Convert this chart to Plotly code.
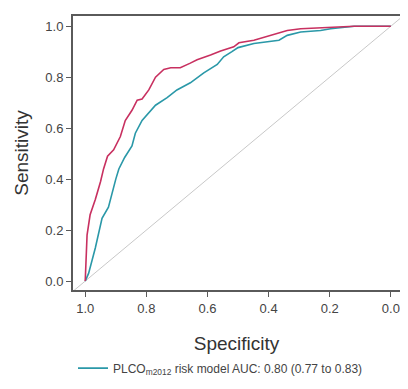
import plotly.graph_objects as go

# Specificity / sensitivity
red_spec = [1.0, 0.994, 0.984, 0.967, 0.95, 0.94, 0.927, 0.907, 0.885, 0.869, 0.847, 0.83, 0.814,
            0.792, 0.77, 0.743, 0.72, 0.689, 0.656, 0.634, 0.59, 0.557, 0.514, 0.497, 0.448,
            0.393, 0.339, 0.295, 0.197, 0.12, 0.0]
red_sens = [0.0, 0.18, 0.26, 0.32, 0.39, 0.44, 0.49, 0.515, 0.567, 0.63, 0.67, 0.71, 0.714,
            0.75, 0.80, 0.83, 0.837, 0.837, 0.855, 0.868, 0.887, 0.903, 0.919, 0.935, 0.945,
            0.964, 0.983, 0.99, 0.996, 1.0, 1.0]

teal_spec = [1.0, 0.989, 0.967, 0.945, 0.924, 0.912, 0.90, 0.89, 0.871, 0.847, 0.836, 0.814,
             0.77, 0.732, 0.70, 0.656, 0.612, 0.568, 0.547, 0.52, 0.50, 0.448, 0.366, 0.339,
             0.295, 0.23, 0.197, 0.12, 0.0]
teal_sens = [0.0, 0.03, 0.13, 0.246, 0.29, 0.35, 0.40, 0.44, 0.485, 0.53, 0.58, 0.63,
             0.69, 0.72, 0.75, 0.778, 0.817, 0.85, 0.88, 0.9, 0.916, 0.932, 0.945, 0.964,
             0.977, 0.983, 0.99, 1.0, 1.0]

diag = [1.04, -0.03]
teal_name = "PLCO<sub>m2012</sub> risk model AUC: 0.80 (0.77 to 0.83)"

x_ticks = [1.0, 0.8, 0.6, 0.4, 0.2, 0.0]
x_text = ["1.0", "0.8", "0.6", "0.4", "0.2", "0.0"]
y_ticks = [0.0, 0.2, 0.4, 0.6, 0.8, 1.0]
y_text = ["0.0", "0.2", "0.4", "0.6", "0.8", "1.0"]

fig = go.Figure()
fig.add_trace(go.Scatter(x=diag, y=[1 - v for v in diag], mode="lines",
                         line=dict(color="#c8c8c8", width=1), showlegend=False))
fig.add_trace(go.Scatter(x=teal_spec, y=teal_sens, mode="lines", name=teal_name,
                         line=dict(color="#2a98a8", width=1.6)))
fig.add_trace(go.Scatter(x=red_spec, y=red_sens, mode="lines", name="red",
                         line=dict(color="#c83060", width=1.6), showlegend=False))

axis_common = dict(showgrid=False, zeroline=False, showline=True, mirror=True,
                   linecolor="#5a5a5a", linewidth=2, ticks="outside", ticklen=5,
                   tickcolor="#5a5a5a", tickfont=dict(size=13, color="#444444",
                                                      family="Liberation Sans"))

fig.update_layout(
    width=400, height=381,
    margin=dict(l=65, r=8, t=6, b=96),
    paper_bgcolor="white", plot_bgcolor="white",
    font=dict(family="Liberation Sans", color="#333333"),
    xaxis=dict(range=[1.04, -0.03], tickvals=x_ticks, ticktext=x_text,
               title=dict(text="Specificity", font=dict(size=19, color="#333333"), standoff=22),
               **axis_common),
    yaxis=dict(range=[-0.035, 1.04], tickvals=y_ticks, ticktext=y_text,
               title=dict(text="Sensitivity", font=dict(size=19, color="#333333"), standoff=12),
               **axis_common),
    legend=dict(orientation="h", x=0.0, xanchor="left", y=-0.285, yanchor="middle",
                font=dict(size=12, color="#444444"), bgcolor="rgba(0,0,0,0)"),
    showlegend=True,
)

fig.write_html("out.html")
